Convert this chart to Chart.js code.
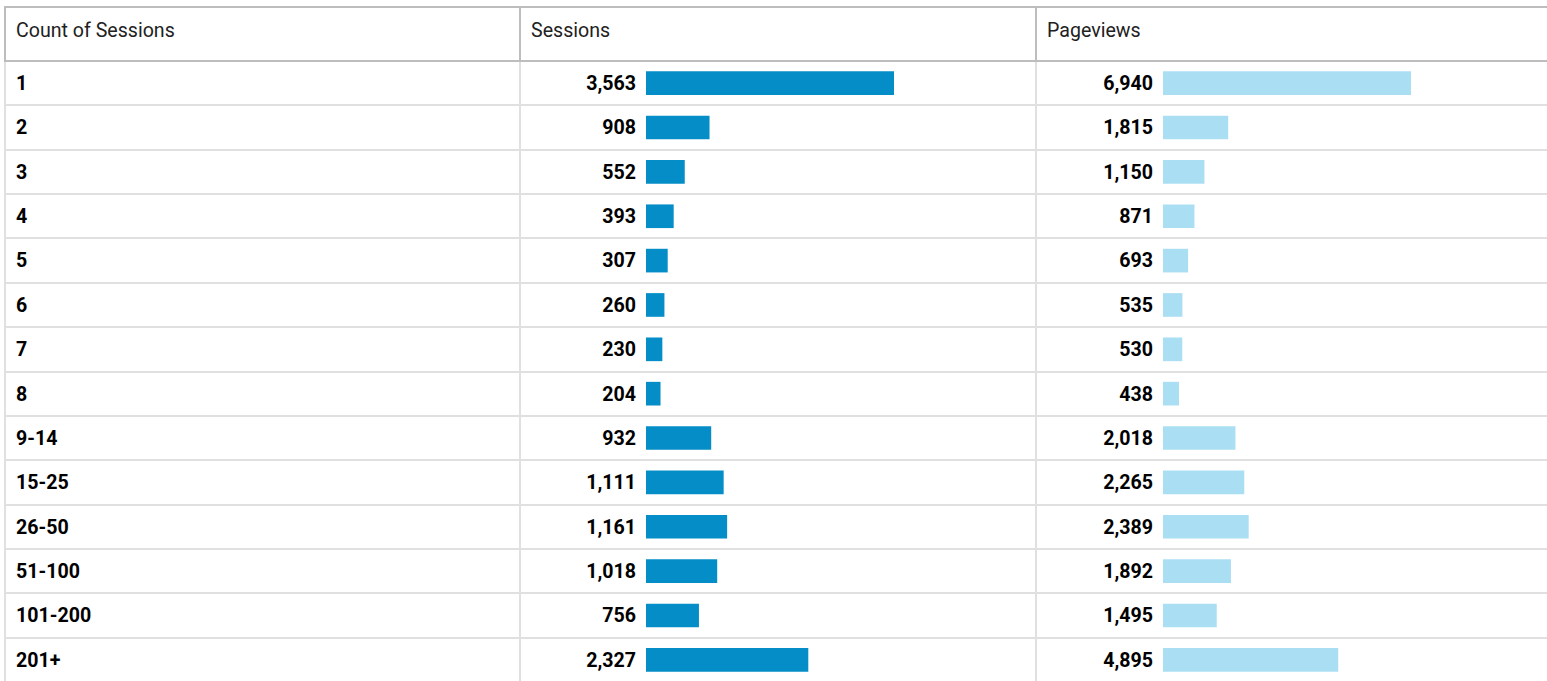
<!DOCTYPE html>
<html>
<head>
<meta charset="utf-8">
<script src="https://cdn.jsdelivr.net/npm/chart.js@4.4.1/dist/chart.umd.min.js"></script>
<style>
  body { margin: 0; background: #fff; font-family: Roboto, "Noto Sans", sans-serif; overflow: hidden; }
  .line { position: absolute; }
  .dark { background: #bdbdbd; }
  .light { background: #e0e0e0; }
  .txt { position: absolute; font-size: 19.6px; white-space: nowrap; }
  .hdr { color: #212121; font-weight: 400; }
  .cell { color: #000; font-weight: 700; }
  .bars { position: absolute; }
</style>
</head>
<body>
<div id="table"></div>
<div class="bars" id="wrapSessions"><canvas id="sessionsChart"></canvas></div>
<div class="bars" id="wrapPageviews"><canvas id="pageviewsChart"></canvas></div>
<script>
// Table data
const headers = ['Count of Sessions', 'Sessions', 'Pageviews'];
const categories = ['1', '2', '3', '4', '5', '6', '7', '8', '9-14', '15-25', '26-50', '51-100', '101-200', '201+'];
const sessions = [3563, 908, 552, 393, 307, 260, 230, 204, 932, 1111, 1161, 1018, 756, 2327];
const pageviews = [6940, 1815, 1150, 871, 693, 535, 530, 438, 2018, 2265, 2389, 1892, 1495, 4895];

// Layout of the table (page pixels)
const tableLeft = 4, tableTop = 6, tableRight = 1547;
const headerBottom = 61;
const bodyHeight = 621;
const rowH = bodyHeight / categories.length;
const colStarts = [6, 521, 1037];
const colSeps = [520, 1036];
const numRight = [636, 1153];
const barLeft = [646, 1163];
const barMaxWidth = 248;

const table = document.getElementById('table');
function addDiv(cls, style, text) {
  const d = document.createElement('div');
  d.className = cls;
  Object.assign(d.style, style);
  if (text !== undefined) d.textContent = text;
  table.appendChild(d);
  return d;
}

// Borders
addDiv('line dark', { left: tableLeft + 'px', top: tableTop + 'px', width: (tableRight - tableLeft) + 'px', height: '2px' });
addDiv('line dark', { left: tableLeft + 'px', top: tableTop + 'px', width: '2px', height: (headerBottom - tableTop) + 'px' });
addDiv('line light', { left: tableLeft + 'px', top: headerBottom + 'px', width: '2px', height: bodyHeight + 'px' });
colSeps.forEach(x => {
  addDiv('line dark', { left: (x - 1) + 'px', top: tableTop + 'px', width: '2px', height: (headerBottom - tableTop) + 'px' });
  addDiv('line light', { left: (x - 1) + 'px', top: headerBottom + 'px', width: '2px', height: bodyHeight + 'px' });
});
addDiv('line dark', { left: tableLeft + 'px', top: (headerBottom - 1) + 'px', width: (tableRight - tableLeft) + 'px', height: '2px' });
for (let i = 1; i < categories.length; i++) {
  const y = headerBottom + rowH * i;
  addDiv('line light', { left: tableLeft + 'px', top: (y - 1) + 'px', width: (tableRight - tableLeft) + 'px', height: '2px' });
}

// Header text
headers.forEach((h, c) => {
  addDiv('txt hdr', { left: (colStarts[c] + 10) + 'px', top: (tableTop + 2) + 'px', height: (headerBottom - tableTop - 2) + 'px',
    lineHeight: (headerBottom - tableTop - 10) + 'px' }, h);
});

// Body text
const fmt = v => v.toLocaleString('en-US');
categories.forEach((cat, i) => {
  const top = headerBottom + rowH * i + 1;
  const common = { top: top + 'px', height: rowH + 'px', lineHeight: rowH + 'px' };
  addDiv('txt cell', Object.assign({ left: '16px' }, common), cat);
  [sessions, pageviews].forEach((arr, c) => {
    addDiv('txt cell', Object.assign({ right: (1547 - numRight[c]) + 'px', textAlign: 'right' }, common), fmt(arr[i]));
  });
});

// Bar charts, one per metric column
function makeBars(canvasId, wrapId, left, values, color) {
  const wrap = document.getElementById(wrapId);
  Object.assign(wrap.style, { left: left + 'px', top: headerBottom + 'px', width: barMaxWidth + 'px', height: bodyHeight + 'px' });
  return new Chart(document.getElementById(canvasId), {
    type: 'bar',
    data: {
      labels: categories,
      datasets: [{
        data: values,
        backgroundColor: color,
        borderWidth: 0,
        barThickness: 23
      }]
    },
    options: {
      indexAxis: 'y',
      responsive: true,
      maintainAspectRatio: false,
      animation: false,
      layout: { padding: 0 },
      scales: {
        x: { display: false, min: 0, max: Math.max(...values), grid: { display: false } },
        y: { display: false, grid: { display: false } }
      },
      plugins: {
        legend: { display: false },
        tooltip: { enabled: false }
      }
    }
  });
}

makeBars('sessionsChart', 'wrapSessions', barLeft[0], sessions, '#058DC7');
makeBars('pageviewsChart', 'wrapPageviews', barLeft[1], pageviews, '#AADFF3');
</script>
</body>
</html>
